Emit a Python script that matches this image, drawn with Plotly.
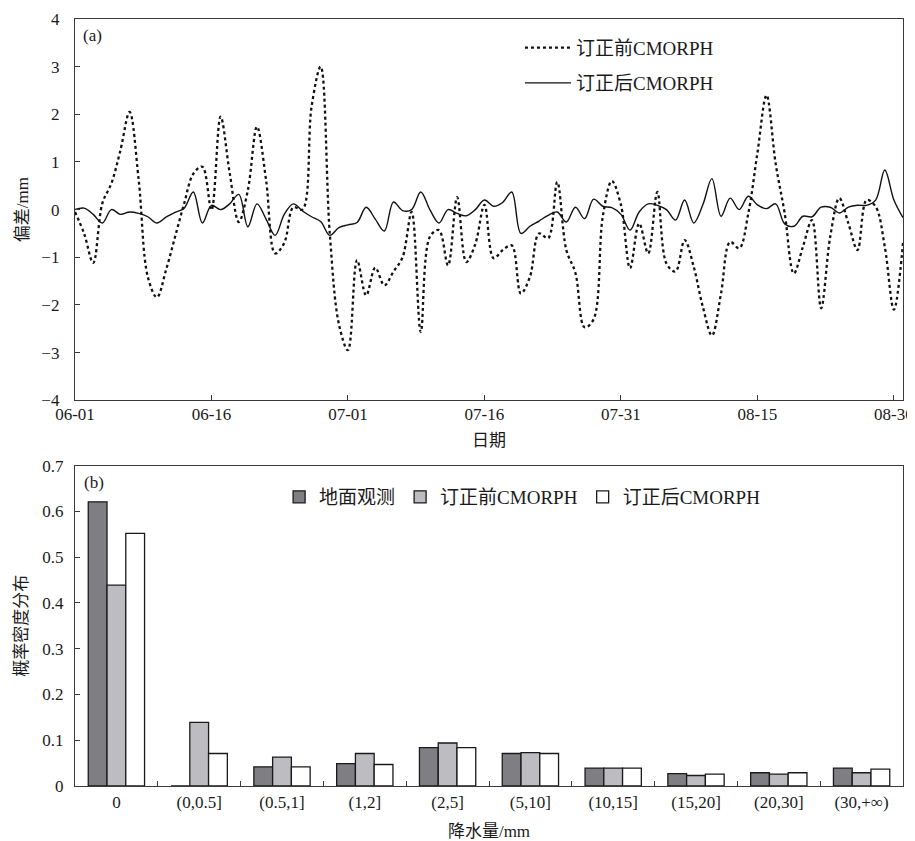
import pandas as pd
import plotly.graph_objects as go

# ---------------- data ----------------
start_date = "2014-06-01"
n_days = 92
dates = pd.date_range(start_date, periods=n_days)

bias_before = [
    -0.05, -0.5, -1.12, 0.13, 0.55, 1.25, 2.05, 0.62, -1.41, -1.84,
    -1.27, -0.57, 0.13, 0.75, 0.9, -0.01, 1.95, 0.77, -0.26, 0.41,
    1.74, 0.62, -0.92, -0.7, 0.05, 0.0, 2.16, 3.0, -0.5, -2.4,
    -2.95, -1.06, -1.8, -1.22, -1.59, -1.3, -1.0, -0.05, -2.57, -0.57,
    -0.43, -1.17, 0.26, -1.1, -0.72, 0.1, -1.02, -0.85, -0.75, -1.76,
    -1.41, -0.5, -0.6, 0.58, -0.85, -1.33, -2.47, -2.3, -0.15, 0.6,
    0.1, -1.23, -0.29, -0.92, 0.37, -1.13, -1.3, -0.64, -1.2, -2.04,
    -2.64, -1.76, -0.68, -0.81, -0.08, 1.19, 2.4, 0.97, -0.08, -1.34,
    -0.78, -0.22, -2.07, -0.57, 0.24, -0.29, -0.85, 0.2, 0.06, -0.78,
    -2.1, -0.7,
]

bias_after = [
    0.0, 0.03, -0.1, -0.28, 0.0, -0.1, -0.05, -0.08, -0.15, -0.28,
    -0.16, -0.06, 0.03, 0.37, -0.28, 0.09, 0.0, 0.12, 0.32, -0.36,
    0.12, -0.2, -0.54, -0.1, 0.12, -0.03, -0.15, -0.25, -0.54, -0.38,
    -0.32, -0.27, 0.05, -0.2, -0.45, 0.16, -0.02, 0.0, 0.37, 0.0,
    -0.28, 0.0, -0.08, -0.13, 0.0, 0.2, 0.07, 0.15, 0.37, -0.5,
    -0.35, -0.24, -0.12, -0.05, -0.26, 0.05, -0.19, 0.22, 0.07, 0.04,
    -0.1, -0.43, -0.05, 0.12, 0.09, 0.0, -0.22, 0.2, -0.28, 0.1,
    0.65, -0.14, 0.24, 0.0, 0.28, 0.1, 0.02, 0.12, -0.3, -0.35,
    -0.14, -0.15, 0.05, 0.05, -0.07, 0.05, 0.09, 0.09, 0.2, 0.83,
    0.2, -0.17,
]

date_tick_vals = ["2014-06-01", "2014-06-16", "2014-07-01", "2014-07-16",
                  "2014-07-31", "2014-08-15", "2014-08-30"]
date_tick_text = ["06-01", "06-16", "07-01", "07-16", "07-31", "08-15", "08-30"]

rain_bins = ["0", "(0,0.5]", "(0.5,1]", "(1,2]", "(2,5]", "(5,10]",
             "(10,15]", "(15,20]", "(20,30]", "(30,+∞)"]
pdf_obs = [0.621, 0.0, 0.042, 0.049, 0.084, 0.071, 0.039, 0.027, 0.029, 0.039]
pdf_before = [0.439, 0.139, 0.063, 0.071, 0.094, 0.073, 0.039, 0.023, 0.026, 0.029]
pdf_after = [0.552, 0.071, 0.042, 0.047, 0.084, 0.071, 0.039, 0.026, 0.029, 0.037]

# ---------------- style ----------------
FONT = "Liberation Serif, Noto Sans CJK SC, serif"
TXT = "#1a1a1a"
AX = "#3a3a3a"

fig = go.Figure()

fig.add_trace(go.Scatter(
    x=dates, y=bias_before, mode="lines", name="订正前CMORPH",
    line=dict(color="#111111", width=2.3, dash="dot", shape="spline", smoothing=1.0),
    xaxis="x", yaxis="y", legend="legend", showlegend=True,
))
fig.add_trace(go.Scatter(
    x=dates, y=bias_after, mode="lines", name="订正后CMORPH",
    line=dict(color="#111111", width=1.4, shape="spline", smoothing=1.0),
    xaxis="x", yaxis="y", legend="legend2", showlegend=True,
))

bar_line = dict(color="#1a1a1a", width=1.3)
fig.add_trace(go.Bar(x=rain_bins, y=pdf_obs, name="地面观测",
                     marker=dict(color="#7f7f83", line=bar_line),
                     xaxis="x2", yaxis="y2", legend="legend3"))
fig.add_trace(go.Bar(x=rain_bins, y=pdf_before, name="订正前CMORPH",
                     marker=dict(color="#bdbdc1", line=bar_line),
                     xaxis="x2", yaxis="y2", legend="legend3"))
fig.add_trace(go.Bar(x=rain_bins, y=pdf_after, name="订正后CMORPH",
                     marker=dict(color="#ffffff", line=bar_line),
                     xaxis="x2", yaxis="y2", legend="legend3"))

axis_common = dict(showline=True, linecolor=AX, linewidth=1.3, mirror=True,
                   ticks="inside", ticklen=5, tickcolor=AX, showgrid=False,
                   zeroline=False, automargin=False,
                   tickfont=dict(family=FONT, size=17, color=TXT))

legend_font = dict(family=FONT, size=19, color=TXT)
title_font = dict(family=FONT, size=17, color=TXT)

# the page body adds an 8px offset, so the figure is 8px smaller than the window
fig.update_layout(
    width=907, height=833,
    margin=dict(l=67, r=12, t=11, b=55),
    paper_bgcolor="white", plot_bgcolor="white",
    font=dict(family=FONT, size=16, color=TXT),
    showlegend=True,
    barmode="group", bargap=0.32, bargroupgap=0.0,
    xaxis=dict(axis_common, domain=[0, 1], anchor="y", type="date",
               range=["2014-06-01", "2014-08-31"],
               tickvals=date_tick_vals, ticktext=date_tick_text,
               ticklabelstandoff=-2,
               title=dict(text="日期", font=title_font, standoff=11)),
    yaxis=dict(axis_common, domain=[0.503, 1], anchor="x", range=[-4, 4], dtick=1,
               ticklabelstandoff=11,
               title=dict(text="偏差/mm", font=title_font, standoff=8)),
    xaxis2=dict(axis_common, domain=[0, 1], anchor="y2", type="category",
                tickson="boundaries",
                title=dict(text="降水量/mm", font=title_font, standoff=16)),
    yaxis2=dict(axis_common, domain=[0, 0.4176], anchor="x2", range=[0, 0.7], dtick=0.1,
                ticklabelstandoff=7,
                title=dict(text="概率密度分布", font=title_font, standoff=10)),
    legend=dict(x=0.5374, y=0.9873, xanchor="left", yanchor="top", bgcolor="rgba(0,0,0,0)",
                font=legend_font, itemwidth=46),
    legend2=dict(x=0.5374, y=0.9413, xanchor="left", yanchor="top", bgcolor="rgba(0,0,0,0)",
                 font=legend_font, itemwidth=46),
    legend3=dict(x=0.2465, y=0.4016, xanchor="left", yanchor="top", orientation="h",
                 bgcolor="rgba(0,0,0,0)", font=legend_font),
    annotations=[
        dict(text="(a)", x=0.007, y=0.9935, xref="paper", yref="paper", showarrow=False,
             xanchor="left", yanchor="top", font=dict(family=FONT, size=17, color=TXT)),
        dict(text="(b)", x=0.008, y=0.4107, xref="paper", yref="paper", showarrow=False,
             xanchor="left", yanchor="top", font=dict(family=FONT, size=17, color=TXT)),
    ],
)

fig.write_html("out.html")
